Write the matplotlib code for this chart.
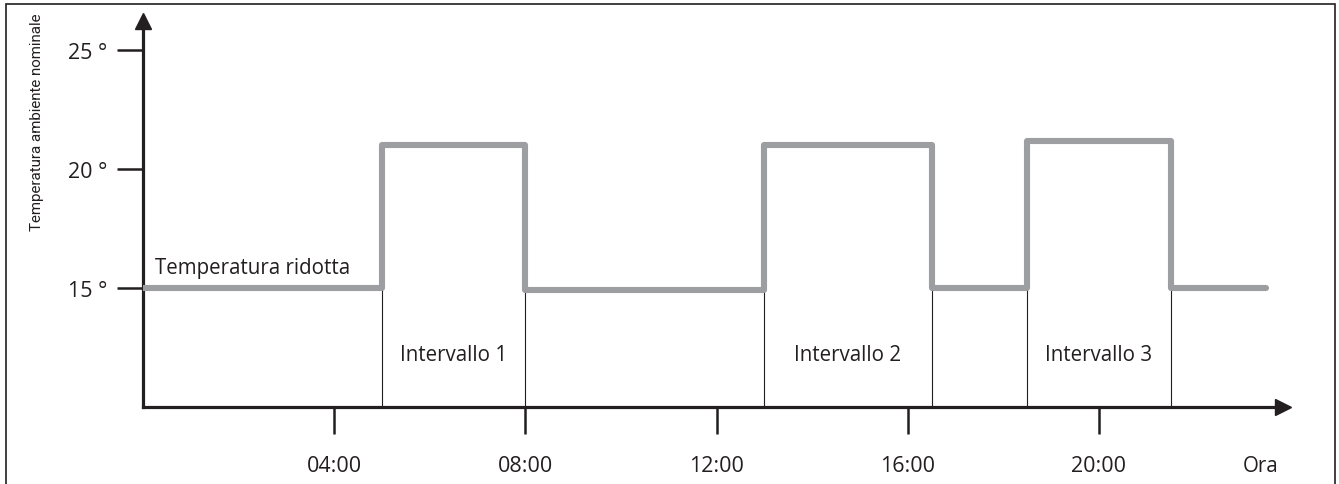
import matplotlib
matplotlib.use("Agg")
import matplotlib.pyplot as plt
from matplotlib.patches import Rectangle

# Data
step_hours = [0, 5, 8, 13, 16.5, 18.5, 21.5, 23.5]
step_temps = [15, 21, 14.92, 21, 15, 21.15, 15, 15]
boundaries = [5, 8, 13, 16.5, 18.5, 21.5]
interval_labels = ["Intervallo 1", "Intervallo 2", "Intervallo 3"]
interval_spans = [(5, 8), (13, 16.5), (18.5, 21.5)]
xtick_vals = [4, 8, 12, 16, 20]
xtick_labels = ["04:00", "08:00", "12:00", "16:00", "20:00"]
ytick_vals = [15, 20, 25]
ytick_labels = ["15 °", "20 °", "25 °"]

W, H = 1339, 485
plt.rcParams['font.family'] = ['Open Sans', 'DejaVu Sans']
fig = plt.figure(figsize=(W / 100, H / 100), dpi=100)
FS = 14.8
TFS = 15.5
INK = '#231f20'

ax = fig.add_axes([143 / W, 77 / H, 1140 / W, 386 / H])
ax.set_xlim(0, 23.85)
ax.set_ylim(10, 26.2)

for s in ['top', 'right']:
    ax.spines[s].set_visible(False)
for s in ['left', 'bottom']:
    ax.spines[s].set_linewidth(2.3)
    ax.spines[s].set_color(INK)
    ax.spines[s].set_capstyle('projecting')

# arrowheads
ax.plot(1, 0, marker='>', color=INK, markersize=11, transform=ax.transAxes, clip_on=False)
ax.plot(0, 1, marker='^', color=INK, markersize=11, transform=ax.transAxes, clip_on=False)

# ticks
ax.set_xticks(xtick_vals)
ax.set_xticklabels(xtick_labels, fontsize=TFS, color=INK)
ax.set_yticks(ytick_vals)
ax.set_yticklabels(ytick_labels, fontsize=TFS, color=INK)
ax.tick_params(axis='x', direction='out', length=19.5, width=1.8, pad=15, color=INK)
ax.tick_params(axis='y', direction='out', length=19, width=1.8, pad=7, color=INK)

# vertical boundary lines
for b in boundaries:
    ax.plot([b, b], [10, 15], color=INK, lw=0.8, zorder=2)

# step line
ax.step(step_hours, step_temps, where='post', color='#9d9ea2', lw=4.4,
        solid_joinstyle='round', solid_capstyle='round', zorder=3)

# labels
ax.text(0.25, 15.4, "Temperatura ridotta", fontsize=FS, color=INK, va='bottom', ha='left')
for lab, (a, b) in zip(interval_labels, interval_spans):
    ax.text((a + b) / 2, 12.2, lab, fontsize=FS, color=INK, ha='center', va='center')

fig.text(1261 / W, 1 - 467 / H, "Ora", fontsize=FS, color=INK, ha='center', va='center')
fig.text(37 / W, 1 - 122 / H, "Temperatura ambiente nominale", fontsize=10.9, color=INK,
         rotation=90, ha='center', va='center', family=['Roboto', 'DejaVu Sans'])

# border frame
fig.patches.append(Rectangle((6 / W, -0.01), (1335 - 6) / W, 1 - 5 / H + 0.01,
                             transform=fig.transFigure, fill=False, edgecolor=INK, lw=1.2))

fig.savefig("out.png", dpi=100)
